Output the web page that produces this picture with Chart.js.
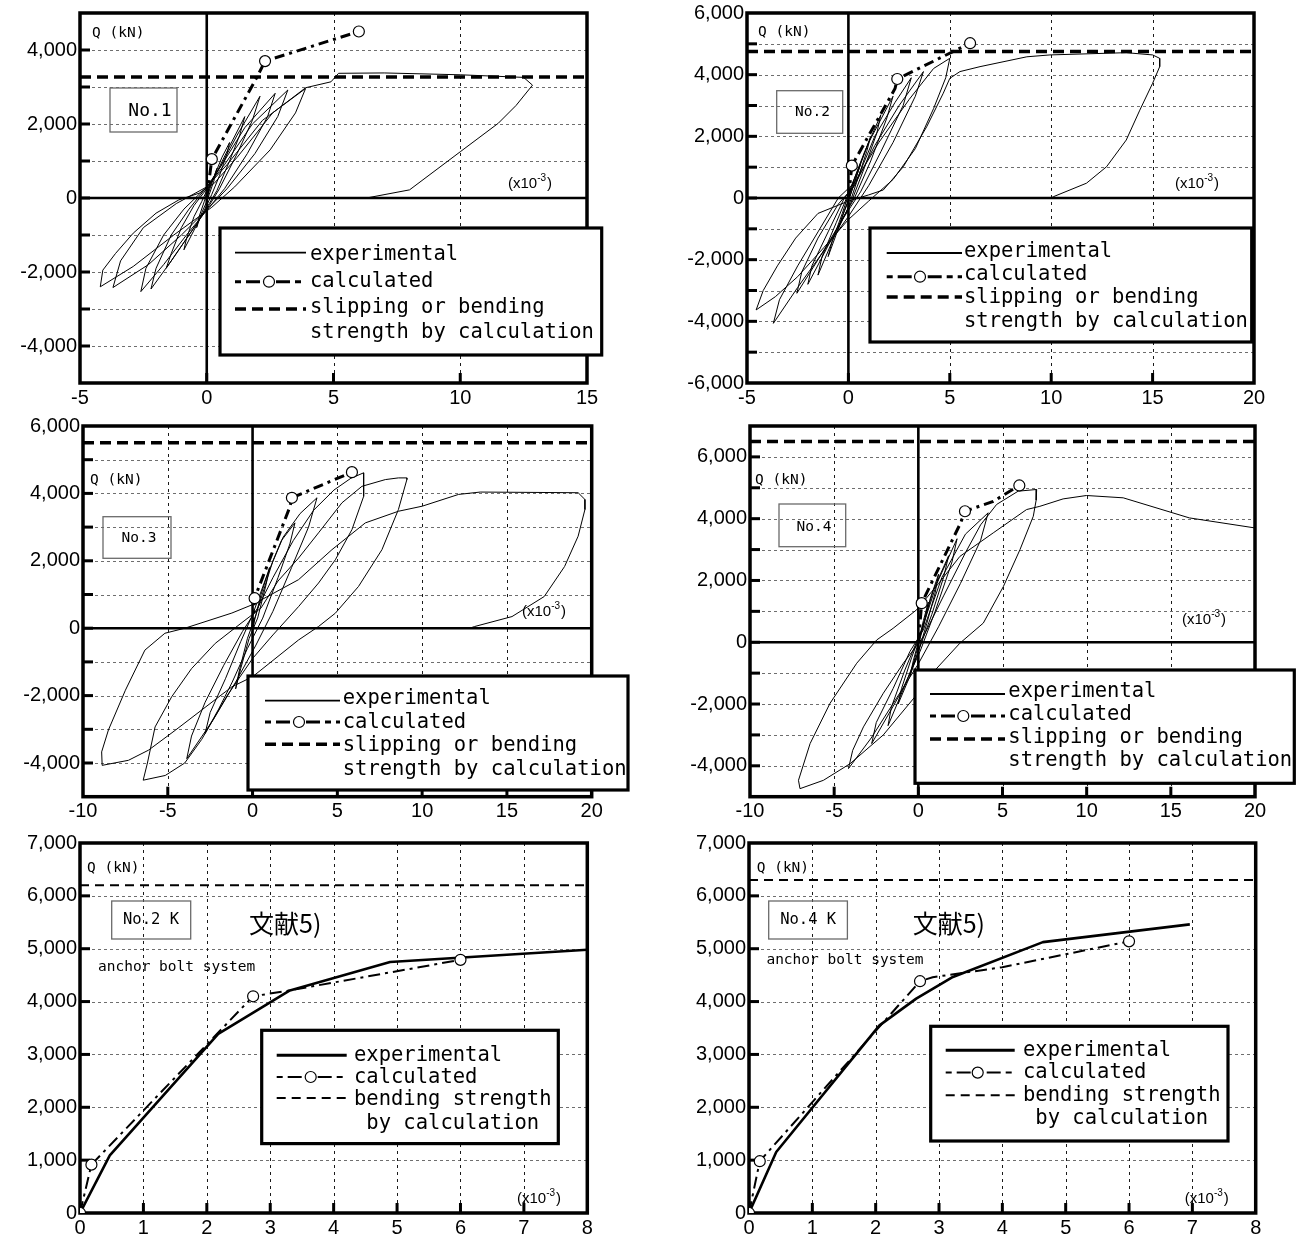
<!DOCTYPE html>
<html lang="en">
<head>
<meta charset="utf-8">
<title>Q-R relationships, No.1 - No.4 K</title>
<script src="https://cdn.jsdelivr.net/npm/chart.js@4.4.1/dist/chart.umd.min.js"></script>
<style>
html,body{margin:0;padding:0;background:#fff;}
body{position:relative;width:1307px;height:1238px;overflow:hidden;}
canvas{position:absolute;}
</style>
</head>
<body>
<canvas id="cNo1"></canvas>
<canvas id="cNo2"></canvas>
<canvas id="cNo3"></canvas>
<canvas id="cNo4"></canvas>
<canvas id="cNo2K"></canvas>
<canvas id="cNo4K"></canvas>
<script>
// ===================== DATA =====================
// x: drift angle R (x10^-3), y: shear force Q (kN)

// ---- No.1 ----
const no1XTicks = [-5, 0, 5, 10, 15];
const no1YTicks = [-5000, -4000, -3000, -2000, -1000, 0, 1000, 2000, 3000, 4000, 5000];
const no1YLabels = [-4000, -2000, 0, 2000, 4000];
const no1Strength = 3270;
const no1Calc = [[0,0],[0.2,1050],[1.96,3240],[2.3,3700],[6.0,4500]];
const no1CalcMarks = [[0.2,1050],[2.3,3700],[6.0,4500]];
const no1Exp = [
 [0,0],[0.2,400],[0.4,800],[0.3,500],[0.1,100],[0,-100],[-0.2,-400],[-0.4,-800],[-0.3,-500],[-0.1,-100],[0,100],
 [0.3,600],[0.6,1100],[0.9,1500],[0.8,1200],[0.5,600],[0.2,100],[0,-200],[-0.3,-600],[-0.6,-1000],[-0.9,-1400],[-0.8,-1100],[-0.5,-500],[-0.2,-100],[0,200],
 [0.4,700],[0.9,1400],[1.5,2200],[1.3,1700],[0.9,1000],[0.4,200],[0.1,-150],[-0.4,-700],[-1.0,-1300],[-1.6,-1900],[-1.4,-1500],[-1.0,-800],[-0.5,-200],[0,250],
 [0.5,800],[1.2,1700],[2.1,2750],[1.8,2100],[1.2,1200],[0.5,250],[0.1,-200],[-0.6,-900],[-1.4,-1700],[-2.2,-2460],[-2.0,-1900],[-1.4,-1000],[-0.7,-300],[0,300],
 [0.6,900],[1.5,1900],[2.7,2830],[2.4,2200],[1.6,1200],[0.7,250],[0.1,-250],[-0.8,-1000],[-1.7,-1800],[-2.6,-2530],[-2.4,-1900],[-1.7,-1000],[-0.9,-300],[0,300],
 [0.7,900],[1.8,2000],[3.2,2920],[2.8,2200],[1.9,1200],[0.8,250],[0.1,-250],[-1.0,-1000],[-2.3,-1800],[-3.7,-2420],[-3.4,-1700],[-2.5,-800],[-1.2,-150],[0,300],
 [0.8,900],[2.2,2100],[3.9,2960],[3.5,2300],[2.5,1300],[1.1,300],[0.2,-250],[-1.3,-1000],[-2.9,-1850],[-4.2,-2400],[-4.1,-1950],[-3.6,-1500],[-2.9,-950],[-2.0,-410],[-1.1,-50],[-0.3,130],[0.3,400],
 [1.2,1100],[2.6,2300],[3.9,2980],[4.9,3140],[5.2,3370],[7.0,3380],[10.0,3330],[12.5,3260],[12.85,3050],[12.2,2500],[11.5,2020],[10.0,1250],[8.0,220],[6.3,0]
];

// ---- No.2 ----
const no2XTicks = [-5, 0, 5, 10, 15, 20];
const no2YTicks = [-6000, -5000, -4000, -3000, -2000, -1000, 0, 1000, 2000, 3000, 4000, 5000, 6000];
const no2YLabels = [-6000, -4000, -2000, 0, 2000, 4000, 6000];
const no2Strength = 4750;
const no2Calc = [[0,0],[0.17,1050],[2.3,3550],[2.41,3860],[6.0,5020]];
const no2CalcMarks = [[0.17,1050],[2.41,3860],[6.0,5020]];
const no2Exp = [
 [0,0],[0.3,600],[0.6,1100],[0.4,700],[0.1,100],[-0.2,-400],[-0.5,-1000],[-0.3,-600],[0,-100],[0.2,300],
 [0.6,1100],[1.1,2000],[0.9,1500],[0.4,500],[0,-300],[-0.5,-1000],[-1.0,-1900],[-0.8,-1400],[-0.3,-500],[0.1,300],
 [0.8,1500],[1.6,2700],[1.4,2100],[0.8,1000],[0.1,-200],[-0.6,-1100],[-1.5,-2500],[-1.3,-1900],[-0.6,-800],[0.1,300],
 [1.0,1800],[2.2,3300],[1.9,2600],[1.1,1200],[0.3,0],[-0.5,-900],[-1.2,-1800],[-2.0,-2800],[-1.8,-2200],[-1.0,-1100],[-0.2,0],[0.3,400],
 [1.3,2000],[2.3,3100],[3.1,3900],[2.7,3000],[1.6,1500],[0.6,200],[-0.3,-700],[-1.4,-1900],[-2.54,-3090],[-2.3,-2400],[-1.5,-1300],[-0.5,-200],[0.3,400],
 [1.3,1700],[2.5,3000],[3.7,4100],[3.3,3300],[2.2,1800],[1.0,400],[0,-600],[-1.2,-1700],[-2.5,-2900],[-3.7,-4065],[-3.4,-3300],[-2.5,-2200],[-1.5,-1100],[-0.5,0],[0.3,500],
 [1.5,1800],[3.0,3200],[4.2,4200],[5.0,4530],[4.8,3900],[4.2,2900],[3.3,1600],[2.2,600],[1.0,-100],[0,-700],[-1.2,-1600],[-2.5,-2550],[-3.6,-3200],[-4.55,-3630],
 [-4.2,-3000],[-3.5,-2200],[-2.6,-1300],[-1.5,-500],[0,-100],[1.0,100],[1.72,260],[2.71,1015],[3.86,2310],[4.68,3400],[5.0,3880],[5.5,4100],[6.49,4260],
 [8.8,4580],[9.94,4640],[13.7,4713],[15.0,4640],[15.35,4530],[15.35,4260],[15.0,3720],[14.37,2850],[13.7,1880],[12.73,1015],[11.74,480],[10.1,40],[10.0,0]
];

// ---- No.3 ----
const no3XTicks = [-10, -5, 0, 5, 10, 15, 20];
const no3YTicks = [-5000, -4000, -3000, -2000, -1000, 0, 1000, 2000, 3000, 4000, 5000, 6000];
const no3YLabels = [-4000, -2000, 0, 2000, 4000, 6000];
const no3Strength = 5500;
const no3Calc = [[0,0],[0.12,890],[2.2,3600],[2.32,3870],[3.9,4210],[5.86,4630]];
const no3CalcMarks = [[0.12,890],[2.32,3870],[5.86,4630]];
const no3Exp = [
 [0,0],[0.5,1000],[1.0,1800],[0.8,1300],[0.3,300],[-0.2,-300],[-0.7,-1200],[-1.0,-1800],[-0.8,-1300],[-0.3,-300],[0.2,400],
 [1.2,2000],[1.7,2600],[2.5,3125],[2.2,2500],[1.5,1500],[0.6,300],[-0.3,-600],[-1.2,-1600],[-2.0,-2400],[-2.8,-3125],[-2.5,-2500],[-1.6,-1500],[-0.7,-400],[0,400],
 [0.8,1500],[1.8,2700],[2.8,3400],[3.8,3870],[3.3,3000],[2.3,1800],[1.2,500],[0.2,-500],[-1.0,-1600],[-2.3,-2700],[-3.88,-3870],[-3.6,-3200],[-2.8,-2200],[-1.7,-1100],[-0.6,-100],[0.3,600],
 [1.2,1500],[2.4,2600],[3.6,3500],[4.8,4100],[5.8,4450],[6.55,4610],[6.55,3910],[5.86,2925],[4.88,2030],[3.89,1340],[2.71,640],[1.2,-200],[0,-900],
 [-1.5,-2000],[-3.0,-3300],[-4.0,-4000],[-5.15,-4370],[-6.45,-4510],[-6.2,-4000],[-5.75,-2930],[-4.77,-2035],[-3.6,-1200],[-2.2,-450],[-0.8,100],[0.5,600],
 [1.5,1400],[2.71,2080],[3.89,2830],[5.27,3720],[6.45,4210],[7.83,4410],[8.6,4460],[9.1,4460],[9.1,4410],[8.6,3520],[7.63,2330],[6.25,1240],[4.88,445],[3.89,50],[2.71,-350],
 [0,-1440],[-1.22,-1740],[-4.56,-3030],[-6.14,-3620],[-7.32,-3920],[-8.87,-4070],[-8.9,-3670],[-8.5,-3020],[-7.5,-1840],[-6.35,-650],[-5.17,-150],[-3.99,0],[-1.22,450],[0,700],
 [2.71,1440],[4.68,2330],[6.65,3125],[8.6,3470],[10.0,3620],[12.15,3970],[13.43,4040],[19.2,4020],[19.6,3820],[19.6,3520],[19.2,2730],[18.4,1830],[17.2,940],[15.3,345],[13.1,50],[12.8,0]
];

// ---- No.4 ----
const no4XTicks = [-10, -5, 0, 5, 10, 15, 20];
const no4YTicks = [-5000, -4000, -3000, -2000, -1000, 0, 1000, 2000, 3000, 4000, 5000, 6000, 7000];
const no4YLabels = [-4000, -2000, 0, 2000, 4000, 6000];
const no4Strength = 6500;
const no4Calc = [[0,0],[0.2,1265],[2.5,3850],[2.77,4240],[4.45,4560],[6.0,5075]];
const no4CalcMarks = [[0.2,1265],[2.77,4240],[6.0,5075]];
const no4Exp = [
 [0,0],[0.3,700],[0.6,1300],[0.4,800],[0.1,100],[-0.2,-500],[-0.5,-1100],[-0.3,-600],[0,0],[0.3,500],
 [0.7,1400],[1.2,2200],[1.0,1600],[0.5,600],[0,-300],[-0.5,-1100],[-1.2,-2000],[-1.0,-1500],[-0.4,-500],[0.2,400],
 [0.9,1700],[1.8,2800],[1.5,2100],[0.8,900],[0,-300],[-0.8,-1400],[-1.8,-2700],[-1.6,-2100],[-0.8,-900],[0.2,400],
 [1.1,1900],[2.3,3350],[2.0,2600],[1.0,1000],[0.1,-300],[-1.0,-1600],[-2.77,-3280],[-2.5,-2600],[-1.5,-1500],[-0.5,-300],[0.3,400],
 [1.4,2100],[2.8,3500],[4.15,4190],[3.7,3300],[2.5,1900],[1.2,500],[0,-700],[-1.4,-1900],[-2.8,-3100],[-4.15,-4090],[-3.9,-3500],[-3.26,-2740],[-2.08,-1650],[-0.89,-680],[0.3,180],
 [1.5,1500],[2.8,2900],[3.7,3800],[4.65,4460],[5.93,4890],[7.03,4945],[7.0,4600],[6.83,4080],[6.04,3000],[5.05,1800],[3.86,620],[2.47,-30],[1.0,-900],[-0.1,-1700],
 [-2.08,-3000],[-4.05,-3930],[-5.64,-4470],[-7.03,-4740],[-7.12,-4470],[-6.43,-3280],[-5.25,-1980],[-3.66,-680],[-2.47,75],[-1.5,450],[-0.1,1050],
 [1.2,1900],[2.47,2780],[4.45,3540],[6.43,4295],[7.22,4400],[8.6,4640],[9.99,4750],[12.17,4675],[16.1,4025],[20.0,3700]
];

// ---- No.2 K (anchor bolt system) ----
const kXTicks = [0, 1, 2, 3, 4, 5, 6, 7, 8];
const kYTicks = [0, 1000, 2000, 3000, 4000, 5000, 6000, 7000];
const kYLabels = [0, 1000, 2000, 3000, 4000, 5000, 6000, 7000];
const no2kStrength = 6200;
const no2kExp = [[0,0],[0.47,1090],[2.18,3390],[3.31,4210],[4.89,4750],[8.0,4980]];
const no2kCalc = [[0,0],[0.18,915],[2.73,4100],[3.3,4210],[6.0,4790]];
const no2kCalcMarks = [[0,0],[0.18,915],[2.73,4100],[6.0,4790]];

// ---- No.4 K (anchor bolt system) ----
const no4kStrength = 6300;
const no4kExp = [[0,0],[0.43,1155],[2.06,3550],[2.64,4055],[3.22,4465],[4.64,5125],[6.96,5460]];
const no4kCalc = [[0,0],[0.17,980],[2.7,4385],[2.9,4460],[4.0,4650],[6.0,5140]];
const no4kCalcMarks = [[0,0],[0.17,980],[2.7,4385],[6.0,5140]];

// ---- texts ----
const legendLabelsSlip = ['experimental', 'calculated', 'slipping or bending', 'strength by calculation'];
const legendLabelsBend = ['experimental', 'calculated', 'bending strength', ' by calculation'];
const specimenNames = ['No.1', 'No.2', 'No.3', 'No.4', 'No.2 K', 'No.4 K'];
const axisLabelQ = 'Q (kN)';
const referenceNote = '文献5)';
const systemNote = 'anchor bolt system';

// ===================== LAYOUT & STYLE =====================
const AXIS_W = 80, PAD_T = 16, PAD_R = 45, AXIS_H = 34;
const MONO = '"DejaVu Sans Mono", monospace';
const SANS = '"Liberation Sans", Arial, sans-serif';

const styleHyst = {expW: 1, expLegW: 1.8, calcW: 3, calcDash: [10,5,3,5], legCalcDash: [6,5,14,5], strW: 3.5, strDash: [11,6], markR: 5.5};
const styleMono = {expW: 2.6, expLegW: 3, calcW: 2, calcDash: [12,5,3,5], legCalcDash: [6,5,14,5], strW: 2, strDash: [9,6], markR: 5.5};

const panels = [
 {canvas:'cNo1', L:80, T:13, R:587, B:383, x:[-5,15], y:[-5000,5000], xTicks:no1XTicks, yTicks:no1YTicks, yLabels:no1YLabels,
  exp:no1Exp, calc:no1Calc, marks:no1CalcMarks, strength:no1Strength, style:styleHyst,
  q:[92,33.5], nameBox:[110,88,177,132], name:[specimenNames[0],150,111,18], unit:[508,184],
  legend:{box:[220,228,601.7,355], sx:[235,306], cx:269, ys:[252.7,281.7,309], tx:310, ty:[255,282,308,333], labels:legendLabelsSlip}},
 {canvas:'cNo2', L:747, T:13, R:1254, B:383, x:[-5,20], y:[-6000,6000], xTicks:no2XTicks, yTicks:no2YTicks, yLabels:no2YLabels,
  exp:no2Exp, calc:no2Calc, marks:no2CalcMarks, strength:no2Strength, style:styleHyst,
  q:[758,32.5], nameBox:[776.7,90.7,842.7,133.3], name:[specimenNames[1],812.5,112,14.5], unit:[1175,184],
  legend:{box:[870,228,1251.7,342], sx:[886.7,962], cx:920, ys:[253,276.7,297], tx:964, ty:[252,275,298,321.7], labels:legendLabelsSlip}},
 {canvas:'cNo3', L:83, T:426, R:591.7, B:796.7, x:[-10,20], y:[-5000,6000], xTicks:no3XTicks, yTicks:no3YTicks, yLabels:no3YLabels,
  exp:no3Exp, calc:no3Calc, marks:no3CalcMarks, strength:no3Strength, style:styleHyst,
  q:[90,480], nameBox:[103,516.7,171,558.3], name:[specimenNames[2],139,538,14.5], unit:[522,612],
  legend:{box:[248,676,628,790], sx:[265,340], cx:299, ys:[700.7,722,744.3], tx:342.7, ty:[699,722.5,746,770], labels:legendLabelsSlip}},
 {canvas:'cNo4', L:750, T:426, R:1255, B:796.7, x:[-10,20], y:[-5000,7000], xTicks:no4XTicks, yTicks:no4YTicks, yLabels:no4YLabels,
  exp:no4Exp, calc:no4Calc, marks:no4CalcMarks, strength:no4Strength, style:styleHyst,
  q:[755,480], nameBox:[779,504,845.7,546.7], name:[specimenNames[3],814,527.5,14.5], unit:[1182,620],
  legend:{box:[915,670,1294.3,783.3], sx:[930,1005], cx:963.3, ys:[694,716,739], tx:1008.3, ty:[692,715,738,761], labels:legendLabelsSlip}},
 {canvas:'cNo2K', L:80, T:842.7, R:587.3, B:1212.7, x:[0,8], y:[0,7000], xTicks:kXTicks, yTicks:kYTicks, yLabels:kYLabels,
  exp:no2kExp, calc:no2kCalc, marks:no2kCalcMarks, strength:no2kStrength, style:styleMono,
  q:[87,868], nameBox:[111.7,900.7,190.7,938.7], name:[specimenNames[4],151,920,15.5], unit:[517,1199],
  note:[249,923], sys:[98,967],
  legend:{box:[261.7,1030,558.3,1143.3], sx:[276.7,346.7], cx:310.7, ys:[1055,1076.7,1097.7], tx:354, ty:[1055,1077,1099,1123], labels:legendLabelsBend}},
 {canvas:'cNo4K', L:749.3, T:842.7, R:1256, B:1212.7, x:[0,8], y:[0,7000], xTicks:kXTicks, yTicks:kYTicks, yLabels:kYLabels,
  exp:no4kExp, calc:no4kCalc, marks:no4kCalcMarks, strength:no4kStrength, style:styleMono,
  q:[757,868], nameBox:[769,900.7,847.7,938.7], name:[specimenNames[5],808.5,920,15.5], unit:[1185,1199],
  note:[913,923], sys:[766.7,960],
  legend:{box:[931,1026,1228.3,1140.7], sx:[946,1015], cx:978, ys:[1050,1072.3,1095], tx:1023.3, ty:[1050,1072,1095,1118], labels:legendLabelsBend}}
];

// ===================== DRAWING =====================
const toPts = arr => arr.map(([x, y]) => ({x, y}));
const fmt = v => v.toLocaleString('en-US');

function hLine(ctx, x1, x2, y) { ctx.beginPath(); ctx.moveTo(x1, y); ctx.lineTo(x2, y); ctx.stroke(); }
function vLine(ctx, x, y1, y2) { ctx.beginPath(); ctx.moveTo(x, y1); ctx.lineTo(x, y2); ctx.stroke(); }

function makeDecor(p, ox, oy) {
  const st = p.style;
  const X = v => v - ox, Y = v => v - oy;
  return {
    id: 'decor',
    beforeDatasetsDraw(chart) {
      const {ctx, chartArea: a} = chart;
      const xs = chart.scales.x, ys = chart.scales.y;
      ctx.save();
      // horizontal dotted grid
      ctx.lineWidth = 1; ctx.strokeStyle = '#6e6e6e'; ctx.setLineDash([3, 3]);
      p.yTicks.forEach(v => {
        if (v <= ys.min || v >= ys.max || v === 0) return;
        hLine(ctx, a.left, a.right, Math.round(ys.getPixelForValue(v)) + 0.5);
      });
      // vertical dotted grid
      ctx.strokeStyle = '#1a1a1a'; ctx.setLineDash([3, 4]);
      p.xTicks.forEach(v => {
        if (v <= xs.min || v >= xs.max || v === 0) return;
        vLine(ctx, Math.round(xs.getPixelForValue(v)) + 0.5, a.top, a.bottom);
      });
      // zero lines
      ctx.setLineDash([]); ctx.strokeStyle = '#000'; ctx.lineWidth = 2.6;
      if (ys.min < 0 && ys.max > 0) hLine(ctx, a.left, a.right, ys.getPixelForValue(0));
      if (xs.min < 0 && xs.max > 0) vLine(ctx, xs.getPixelForValue(0), a.top, a.bottom);
      // inner tick marks
      ctx.fillStyle = '#000';
      p.yTicks.forEach(v => {
        if (v <= ys.min || v >= ys.max) return;
        ctx.fillRect(a.left, ys.getPixelForValue(v) - 1.5, 10, 3);
      });
      p.xTicks.forEach(v => {
        if (v <= xs.min || v >= xs.max) return;
        ctx.fillRect(xs.getPixelForValue(v) - 1.5, a.bottom - 10, 3, 10);
      });
      // frame
      ctx.lineWidth = 3.5; ctx.strokeStyle = '#000';
      ctx.strokeRect(a.left, a.top, a.right - a.left, a.bottom - a.top);
      ctx.restore();
    },
    afterDatasetsDraw(chart) {
      const ctx = chart.ctx;
      ctx.save();
      ctx.fillStyle = '#000'; ctx.textBaseline = 'middle'; ctx.textAlign = 'left';
      // Q (kN)
      ctx.font = `14.5px ${MONO}`;
      ctx.fillText(axisLabelQ, X(p.q[0]), Y(p.q[1]));
      // specimen box
      const nb = p.nameBox;
      ctx.lineWidth = 1.3; ctx.strokeStyle = '#6a6a6a';
      ctx.strokeRect(X(nb[0]), Y(nb[1]), nb[2] - nb[0], nb[3] - nb[1]);
      ctx.textAlign = 'center'; ctx.font = `${p.name[3]}px ${MONO}`;
      ctx.fillText(p.name[0], X(p.name[1]), Y(p.name[2]));
      ctx.textAlign = 'left';
      // unit (x10^-3)
      ctx.font = `15px ${SANS}`;
      let ux = X(p.unit[0]); const uy = Y(p.unit[1]);
      ctx.fillText('(x10', ux, uy); ux += ctx.measureText('(x10').width;
      ctx.font = `10px ${SANS}`;
      ctx.fillText('-3', ux, uy - 6); ux += ctx.measureText('-3').width + 1;
      ctx.font = `15px ${SANS}`;
      ctx.fillText(')', ux, uy);
      // reference note & system
      if (p.note) {
        ctx.font = '25px "Noto Sans CJK JP", sans-serif';
        ctx.fillText(referenceNote, X(p.note[0]), Y(p.note[1]));
      }
      if (p.sys) {
        ctx.font = `14.5px ${MONO}`;
        ctx.fillText(systemNote, X(p.sys[0]), Y(p.sys[1]));
      }
      // legend
      const lg = p.legend, b = lg.box;
      ctx.fillStyle = '#fff';
      ctx.fillRect(X(b[0]), Y(b[1]), b[2] - b[0], b[3] - b[1]);
      ctx.lineWidth = 3.2; ctx.strokeStyle = '#000';
      ctx.strokeRect(X(b[0]), Y(b[1]), b[2] - b[0], b[3] - b[1]);
      ctx.lineCap = 'butt';
      ctx.lineWidth = st.expLegW; ctx.setLineDash([]);
      hLine(ctx, X(lg.sx[0]), X(lg.sx[1]), Y(lg.ys[0]));
      ctx.lineWidth = st.calcW; ctx.setLineDash(st.legCalcDash);
      hLine(ctx, X(lg.sx[0]), X(lg.sx[1]), Y(lg.ys[1]));
      ctx.setLineDash([]);
      ctx.beginPath(); ctx.arc(X(lg.cx), Y(lg.ys[1]), st.markR, 0, Math.PI * 2);
      ctx.fillStyle = '#fff'; ctx.fill(); ctx.lineWidth = 1.2; ctx.stroke();
      ctx.lineWidth = st.strW; ctx.setLineDash(st.strDash);
      hLine(ctx, X(lg.sx[0]), X(lg.sx[1]), Y(lg.ys[2]));
      ctx.setLineDash([]);
      ctx.fillStyle = '#000'; ctx.font = `20.5px ${MONO}`;
      lg.labels.forEach((s, i) => ctx.fillText(s, X(lg.tx), Y(lg.ty[i])));
      ctx.restore();
    }
  };
}

function buildPanel(p) {
  const canvas = document.getElementById(p.canvas);
  const w = Math.round(p.R - p.L + AXIS_W + PAD_R);
  const h = Math.round(p.B - p.T + PAD_T + AXIS_H);
  const ox = p.L - AXIS_W, oy = p.T - PAD_T;
  canvas.width = w; canvas.height = h;
  Object.assign(canvas.style, {left: ox + 'px', top: oy + 'px', width: w + 'px', height: h + 'px'});
  const st = p.style;
  const padR = w - AXIS_W - (p.R - p.L);
  const padT = PAD_T;
  const padB = h - padT - (p.B - p.T) - AXIS_H;
  new Chart(canvas, {
    type: 'scatter',
    data: {
      datasets: [
        {label: 'calculated (points)', data: toPts(p.marks), showLine: false, pointRadius: st.markR, pointHoverRadius: st.markR,
         pointBackgroundColor: '#fff', pointBorderColor: '#000', pointBorderWidth: 1.2},
        {label: 'calculated', data: toPts(p.calc), showLine: true, borderColor: '#000', borderWidth: st.calcW,
         borderDash: st.calcDash, borderCapStyle: 'butt', pointRadius: 0, pointHoverRadius: 0, fill: false, tension: 0},
        {label: 'experimental', data: toPts(p.exp), showLine: true, borderColor: '#000', borderWidth: st.expW,
         borderJoinStyle: 'round', pointRadius: 0, pointHoverRadius: 0, fill: false, tension: 0},
        {label: 'strength by calculation', data: toPts([[p.x[0], p.strength], [p.x[1], p.strength]]), showLine: true,
         borderColor: '#000', borderWidth: st.strW, borderDash: st.strDash, pointRadius: 0, pointHoverRadius: 0, fill: false}
      ]
    },
    options: {
      responsive: false, animation: false, devicePixelRatio: 1, events: [],
      layout: {padding: {left: 0, top: padT, right: padR, bottom: padB}},
      plugins: {legend: {display: false}, tooltip: {enabled: false}, title: {display: false}},
      scales: {
        x: {
          type: 'linear', min: p.x[0], max: p.x[1],
          afterBuildTicks: s => { s.ticks = p.xTicks.map(v => ({value: v})); },
          afterFit: s => { s.height = AXIS_H; },
          grid: {display: false, drawTicks: false}, border: {display: false},
          ticks: {color: '#000', font: {family: SANS, size: 20}, padding: 3, maxRotation: 0, autoSkip: false,
                  callback: v => fmt(v)}
        },
        y: {
          type: 'linear', min: p.y[0], max: p.y[1],
          afterBuildTicks: s => { s.ticks = p.yTicks.map(v => ({value: v})); },
          afterFit: s => { s.width = AXIS_W; },
          grid: {display: false, drawTicks: false}, border: {display: false},
          ticks: {color: '#000', font: {family: SANS, size: 20}, padding: 3, autoSkip: false,
                  callback: v => (p.yLabels.includes(v) ? fmt(v) : '')}
        }
      }
    },
    plugins: [makeDecor(p, ox, oy)]
  });
}

panels.forEach(buildPanel);
</script>
</body>
</html>
